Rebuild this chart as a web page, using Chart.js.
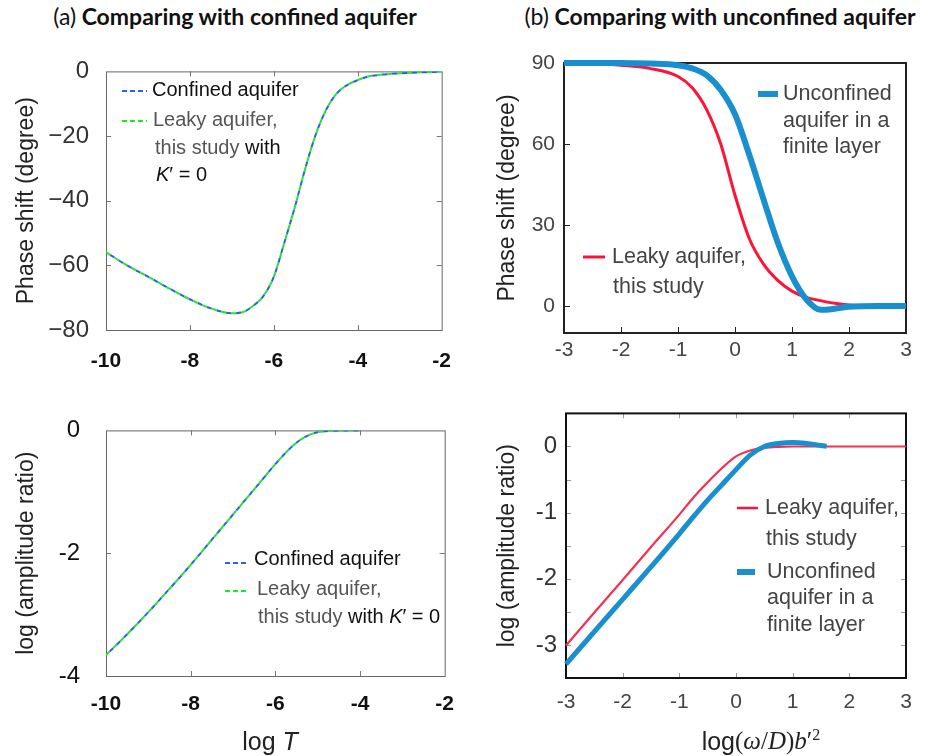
<!DOCTYPE html>
<html><head><meta charset="utf-8">
<script src="https://cdn.jsdelivr.net/npm/chart.js@4/dist/chart.umd.min.js"></script>
<style>
body{margin:0;background:#fff;width:932px;height:756px;position:relative;overflow:hidden;font-family:"Liberation Sans",Arial,sans-serif}
.ttl{position:absolute;top:2px;font-family:Lato,"Open Sans",sans-serif;font-weight:700;font-size:23px;color:#111;white-space:nowrap;transform:translateX(-50%)}
.ttl span{font-weight:400}
canvas{position:absolute}
.xt{position:absolute;font-size:25px;color:#222;white-space:nowrap;transform:translate(-50%,-50%);font-family:"Liberation Sans",sans-serif}
.sf{font-family:"Liberation Serif","DejaVu Serif",serif}
</style></head><body>
<div class="ttl" style="left:235px"><span>(a)</span> Comparing with confined aquifer</div>
<div class="ttl" style="left:720px"><span>(b)</span> Comparing with unconfined aquifer</div>
<canvas id="cA1" width="470" height="340" style="left:0;top:40px"></canvas>
<canvas id="cB1" width="462" height="340" style="left:470px;top:40px"></canvas>
<canvas id="cA2" width="470" height="340" style="left:0;top:390px"></canvas>
<canvas id="cB2" width="462" height="340" style="left:470px;top:390px"></canvas>
<div class="xt" style="left:270px;top:741px">log <i>T</i></div>
<div class="xt" style="left:761px;top:741px">log<span class="sf">(<i>ω</i>/<i>D</i>)<i>b</i>′<sup style="font-size:16px">2</sup></span></div>
<script>
// ---------- data ----------
const aT = [-10, -9.5, -9, -8.5, -8, -7.5, -7, -6.75, -6.5, -6.25, -6, -5.75, -5.5, -5.25, -5, -4.75, -4.5, -4.25, -4, -3.75, -3.5, -3, -2.5, -2];
const aPhaseConfined = [-55.9, -60, -63.5, -67.1, -70.5, -73.3, -74.8, -74.5, -72.6, -69.5, -63.5, -53, -42, -30, -19.5, -11.8, -6.8, -4.2, -2.7, -1.6, -1.1, -0.6, -0.3, -0.1];
const aPhaseLeaky    = [-55.9, -60, -63.5, -67.1, -70.5, -73.3, -74.8, -74.5, -72.6, -69.5, -63.5, -53, -42, -30, -19.5, -11.8, -6.8, -4.2, -2.7, -1.6, -1.1, -0.6, -0.3, -0.1];
const aAmpT = [-10, -9.5, -9, -8.5, -8, -7.5, -7, -6.5, -6, -5.75, -5.5, -5.25, -5, -4.5, -4];
const aAmpConfined = [-3.66, -3.32, -2.96, -2.58, -2.19, -1.78, -1.37, -0.96, -0.55, -0.36, -0.2, -0.09, -0.03, -0.005, 0];
const aAmpLeaky    = [-3.66, -3.32, -2.96, -2.58, -2.19, -1.78, -1.37, -0.96, -0.55, -0.36, -0.2, -0.09, -0.03, -0.005, 0];
const bX = [-3, -2.5, -2, -1.5, -1, -0.75, -0.5, -0.25, 0, 0.25, 0.5, 0.75, 1, 1.25, 1.5, 1.75, 2, 2.5, 3];
const bPhaseLeaky  = [90, 89.8, 89.2, 88, 85, 80.8, 72.8, 60, 41, 25, 15.5, 9.5, 5.5, 3.2, 2, 1, 0.4, 0.1, 0];
const bPhaseUnconf = [90, 90, 90, 89.8, 89.2, 88, 85.5, 80, 71, 56, 39.5, 23.5, 11, 2.5, -1.4, -1.0, -0.3, 0, 0];
const bAmpX = [-3, -2.5, -2, -1.5, -1, -0.75, -0.5, -0.25, 0, 0.25, 0.5, 0.75, 1, 1.25, 1.5, 1.6, 2, 2.5, 3];
const bAmpLeaky  = [-3.01, -2.51, -2.02, -1.52, -1.03, -0.77, -0.54, -0.33, -0.15, -0.06, -0.02, -0.005, 0, 0, 0, 0, 0, 0, 0];
const bAmpUnconf = [-3.29, -2.8, -2.31, -1.82, -1.32, -1.06, -0.81, -0.58, -0.35, -0.13, 0, 0.045, 0.06, 0.045, 0.015, 0.005, null, null, null];
const aXTicks = [-10, -8, -6, -4, -2];
const aPhaseTicks = [0, -20, -40, -60, -80];
const aAmpTicks = [0, -2, -4];
const bXTicks = [-3, -2, -1, 0, 1, 2, 3];
const bPhaseTicks = [0, 30, 60, 90];
const bAmpTicks = [0, -1, -2, -3];
const bAmpMinorTicks = [0.5, 0, -0.5, -1, -1.5, -2, -2.5, -3];

// ---------- helpers ----------
const pts = (xs, ys) => xs.map((x, i) => ({x: x, y: ys[i]}));
const FONT = '"Liberation Sans", Arial, sans-serif';

const framePlugin = {
  id: 'frame',
  beforeDatasetsDraw(chart, args, o) {
    const {ctx, chartArea: a, scales} = chart;
    ctx.save();
    ctx.strokeStyle = o.tickColor; ctx.lineWidth = 1;
    const tl = o.tickLen;
    ctx.beginPath();
    (o.xTicks || []).forEach(v => {
      const px = Math.round(scales.x.getPixelForValue(v)) + 0.5;
      if (o.xBottom) { ctx.moveTo(px, a.bottom); ctx.lineTo(px, a.bottom - tl); }
      if (o.xTop) { ctx.moveTo(px, a.top); ctx.lineTo(px, a.top + tl); }
    });
    (o.yTicks || []).forEach(v => {
      const py = Math.round(scales.y.getPixelForValue(v)) + 0.5;
      if (o.yLeft) { ctx.moveTo(a.left, py); ctx.lineTo(a.left + tl, py); }
      if (o.yRight) { ctx.moveTo(a.right, py); ctx.lineTo(a.right - tl, py); }
    });
    ctx.stroke();
    ctx.strokeStyle = o.color; ctx.lineWidth = o.width;
    const off = o.width % 2 ? 0.5 : 0;
    ctx.strokeRect(a.left + off, a.top + off, a.right - a.left, a.bottom - a.top);
    ctx.restore();
  }
};

const legendPlugin = {
  id: 'inlegend',
  afterDatasetsDraw(chart, args, o) {
    const ctx = chart.ctx, ox = o.ox, oy = o.oy;
    ctx.save();
    (o.items || []).forEach(it => {
      if (it.swatch) {
        const s = it.swatch;
        ctx.strokeStyle = s.color; ctx.lineWidth = s.width; ctx.lineCap = 'butt';
        ctx.setLineDash(s.dash || []);
        ctx.beginPath(); ctx.moveTo(s.x1 - ox, s.y - oy); ctx.lineTo(s.x2 - ox, s.y - oy); ctx.stroke();
        ctx.setLineDash([]);
      }
      (it.lines || []).forEach(ln => {
        let x = ln.x - ox;
        ln.segs.forEach(sg => {
          ctx.font = (sg.i ? 'italic ' : '') + o.size + 'px ' + FONT;
          ctx.fillStyle = sg.c || o.color;
          ctx.textBaseline = 'middle';
          ctx.fillText(sg.t, x, ln.y - oy);
          x += ctx.measureText(sg.t).width;
        });
      });
    });
    ctx.restore();
  }
};

function axis(o) {
  return {
    type: 'linear', min: o.min, max: o.max,
    grid: {display: false, drawTicks: false}, border: {display: false},
    afterBuildTicks: s => { s.ticks = o.ticks.map(v => ({value: v})); },
    afterFit: s => { if (o.w !== undefined) s.width = o.w; if (o.h !== undefined) s.height = o.h; },
    ticks: {padding: o.pad, color: o.color, font: {size: o.size, family: FONT, weight: o.weight || 'normal'},
            callback: o.cb || (v => String(v))},
    title: o.title ? {display: true, text: o.title, color: '#222', font: {size: 23, family: FONT}, padding: {top: o.tpad, bottom: 0}} : {display: false}
  };
}

function baseOptions(pad, xs, ys, frame, legend) {
  return {
    responsive: false, animation: false, devicePixelRatio: 1,
    layout: {padding: pad},
    elements: {point: {radius: 0}, line: {cubicInterpolationMode: 'monotone'}},
    plugins: {legend: {display: false}, tooltip: {enabled: false}, frame: frame, inlegend: legend},
    scales: {x: axis(xs), y: axis(ys)}
  };
}

const minus = v => (v < 0 ? '\u2212' + Math.abs(v) : String(v));
const BLUE_D = '#2a5ff2', GREEN_D = '#1fea1f', RED = '#ff1238', BLUE = '#1a8fd0';

// ---------- Panel (a) phase ----------
new Chart(document.getElementById('cA1'), {
  type: 'line',
  data: {datasets: [
    {label: 'Leaky aquifer, this study with K\u2032 = 0', data: pts(aT, aPhaseLeaky), borderColor: GREEN_D, borderWidth: 2, borderDash: [5, 5], borderDashOffset: 0},
    {label: 'Confined aquifer', data: pts(aT, aPhaseConfined), borderColor: BLUE_D, borderWidth: 2, borderDash: [5, 5], borderDashOffset: 5}
  ]},
  options: baseOptions({left: 0, top: 24, right: 21, bottom: 0},
    {min: -10, max: -2, ticks: aXTicks, h: 50, pad: 19, size: 21, color: '#111', weight: 'bold'},
    {min: -80, max: 0, ticks: aPhaseTicks, w: 106, pad: 17, size: 24, color: '#333', cb: minus, title: 'Phase shift (degree)', tpad: 13},
    {color: '#666', width: 1, tickColor: '#777', tickLen: 5, xTicks: [-8, -6, -4], yTicks: [-20, -40, -60], xBottom: true, xTop: true, yLeft: true, yRight: true},
    {ox: 0, oy: 40, size: 20, color: '#111', items: [
      {swatch: {x1: 122, x2: 147, y: 91, color: BLUE_D, width: 2, dash: [5, 3]}, lines: [{x: 152, y: 90, segs: [{t: 'Confined aquifer', c: '#111'}]}]},
      {swatch: {x1: 122, x2: 147, y: 121, color: GREEN_D, width: 2, dash: [5, 3]}, lines: [
        {x: 153, y: 120, segs: [{t: 'Leaky aquifer,', c: '#555'}]},
        {x: 155, y: 148, segs: [{t: 'this study ', c: '#555'}, {t: 'with', c: '#111'}]},
        {x: 156, y: 175, segs: [{t: 'K', c: '#111', i: true}, {t: '\u2032 = 0', c: '#111'}]}
      ]}
    ]}),
  plugins: [framePlugin, legendPlugin]
});

// ---------- Panel (b) phase ----------
new Chart(document.getElementById('cB1'), {
  type: 'line',
  data: {datasets: [
    {label: 'Unconfined aquifer in a finite layer', data: pts(bX, bPhaseUnconf), borderColor: BLUE, borderWidth: 6, clip: 8},
    {label: 'Leaky aquifer, this study', data: pts(bX, bPhaseLeaky), borderColor: RED, borderWidth: 3, clip: 8}
  ]},
  options: baseOptions({left: 0, top: 23, right: 26, bottom: 0},
    {min: -3, max: 3, ticks: bXTicks, h: 47, pad: 5, size: 21, color: '#444'},
    {min: -10, max: 90, ticks: bPhaseTicks, w: 94, pad: 9, size: 21, color: '#444', title: 'Phase shift (degree)', tpad: 24},
    {color: '#222', width: 2, tickColor: '#222', tickLen: 6, xTicks: [-2, -1, 0, 1, 2], yTicks: [0, 30, 60], xBottom: true, xTop: false, yLeft: true, yRight: false},
    {ox: 470, oy: 40, size: 21.5, color: '#444', items: [
      {swatch: {x1: 758, x2: 778, y: 94, color: BLUE, width: 6}, lines: [
        {x: 783, y: 94, segs: [{t: 'Unconfined'}]},
        {x: 783, y: 121, segs: [{t: 'aquifer in a'}]},
        {x: 783, y: 147, segs: [{t: 'finite layer'}]}
      ]},
      {swatch: {x1: 583, x2: 605, y: 257, color: RED, width: 3}, lines: [
        {x: 612, y: 257, segs: [{t: 'Leaky aquifer,'}]},
        {x: 613, y: 287, segs: [{t: 'this study'}]}
      ]}
    ]}),
  plugins: [framePlugin, legendPlugin]
});

// ---------- Panel (a) amplitude ----------
new Chart(document.getElementById('cA2'), {
  type: 'line',
  data: {datasets: [
    {label: 'Leaky aquifer, this study with K\u2032 = 0', data: pts(aAmpT, aAmpLeaky), borderColor: GREEN_D, borderWidth: 2, borderDash: [5, 5], borderDashOffset: 0},
    {label: 'Confined aquifer', data: pts(aAmpT, aAmpConfined), borderColor: BLUE_D, borderWidth: 2, borderDash: [5, 5], borderDashOffset: 5}
  ]},
  options: baseOptions({left: 0, top: 21, right: 21, bottom: 0},
    {min: -10, max: -2, ticks: aXTicks, h: 54, pad: 16, size: 21, color: '#111', weight: 'bold'},
    {min: -4, max: 0, ticks: aAmpTicks, w: 106, pad: 26, size: 24, color: '#111', title: 'log (amplitude ratio)', tpad: 13},
    {color: '#666', width: 1, tickColor: '#777', tickLen: 5, xTicks: [-8, -6, -4], yTicks: [-2], xBottom: true, xTop: true, yLeft: true, yRight: true},
    {ox: 0, oy: 390, size: 20, color: '#111', items: [
      {swatch: {x1: 225, x2: 249, y: 563, color: BLUE_D, width: 2, dash: [5, 3]}, lines: [{x: 254, y: 559, segs: [{t: 'Confined aquifer', c: '#111'}]}]},
      {swatch: {x1: 225, x2: 249, y: 591, color: GREEN_D, width: 2, dash: [5, 3]}, lines: [
        {x: 257, y: 589, segs: [{t: 'Leaky aquifer,', c: '#555'}]},
        {x: 258, y: 617, segs: [{t: 'this study ', c: '#555'}, {t: 'with ', c: '#111'}, {t: 'K', c: '#111', i: true}, {t: '\u2032 = 0', c: '#111'}]}
      ]}
    ]}),
  plugins: [framePlugin, legendPlugin]
});

// ---------- Panel (b) amplitude ----------
new Chart(document.getElementById('cB2'), {
  type: 'line',
  data: {datasets: [
    {label: 'Unconfined aquifer in a finite layer', data: pts(bAmpX, bAmpUnconf), borderColor: BLUE, borderWidth: 5, clip: 6, spanGaps: false},
    {label: 'Leaky aquifer, this study', data: pts(bAmpX, bAmpLeaky), borderColor: '#f4304f', borderWidth: 2.2, clip: 6}
  ]},
  options: baseOptions({left: 0, top: 21, right: 26, bottom: 0},
    {min: -3, max: 3, ticks: bXTicks, h: 52, pad: 12, size: 21, color: '#444'},
    {min: -3.5, max: 0.5, ticks: bAmpTicks, w: 96, pad: 9, size: 24, color: '#333', title: 'log (amplitude ratio)', tpad: 24},
    {color: '#111', width: 2, tickColor: '#999', tickLen: 5, xTicks: [-2, -1, 0, 1, 2], yTicks: bAmpMinorTicks, xBottom: true, xTop: true, yLeft: true, yRight: true},
    {ox: 470, oy: 390, size: 21.5, color: '#444', items: [
      {swatch: {x1: 737, x2: 758, y: 508, color: RED, width: 2.5}, lines: [
        {x: 765, y: 508, segs: [{t: 'Leaky aquifer,'}]},
        {x: 766, y: 539, segs: [{t: 'this study'}]}
      ]},
      {swatch: {x1: 737, x2: 755, y: 572, color: BLUE, width: 6}, lines: [
        {x: 767, y: 572, segs: [{t: 'Unconfined'}]},
        {x: 767, y: 598, segs: [{t: 'aquifer in a'}]},
        {x: 767, y: 625, segs: [{t: 'finite layer'}]}
      ]}
    ]}),
  plugins: [framePlugin, legendPlugin]
});
</script>
</body></html>
